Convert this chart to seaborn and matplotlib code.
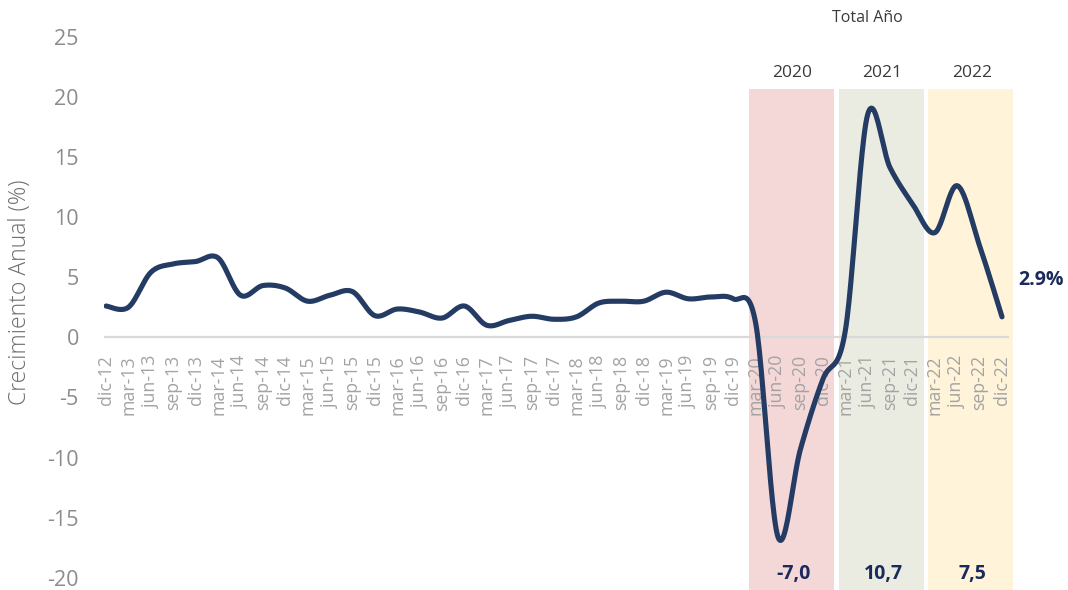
import numpy as np
import pandas as pd
import matplotlib
import matplotlib.pyplot as plt
import seaborn as sns

matplotlib.use("Agg")

# Trimestres (dic-12 a dic-22)
trimestres = [
    "dic-12", "mar-13", "jun-13", "sep-13", "dic-13", "mar-14", "jun-14", "sep-14",
    "dic-14", "mar-15", "jun-15", "sep-15", "dic-15", "mar-16", "jun-16", "sep-16",
    "dic-16", "mar-17", "jun-17", "sep-17", "dic-17", "mar-18", "jun-18", "sep-18",
    "dic-18", "mar-19", "jun-19", "sep-19", "dic-19", "mar-20", "jun-20", "sep-20",
    "dic-20", "mar-21", "jun-21", "sep-21", "dic-21", "mar-22", "jun-22", "sep-22",
    "dic-22",
]
crecimiento = [
    2.6, 2.5, 5.4, 6.1, 6.3, 6.6, 3.5, 4.3,
    4.1, 3.0, 3.5, 3.8, 1.8, 2.35, 2.1, 1.6,
    2.6, 1.0, 1.4, 1.75, 1.5, 1.7, 2.85, 3.0,
    3.0, 3.75, 3.2, 3.35, 3.2, 1.2, -16.6, -9.3,
    -3.5, 0.5, 18.5, 14.1, 11.1, 8.7, 12.6, 7.6,
    1.7,
]
anios = ["2020", "2021", "2022"]
total_anio = ["-7,0", "10,7", "7,5"]
colores_anio = ["#F4D7D7", "#EBECE1", "#FFF4D9"]
ultimo_dato = "2.9%"

AZUL = "#243B64"
AZUL_TXT = "#1B2A5C"


def suavizar(x, y, n=24):
    """Curva Catmull-Rom (como la línea suavizada de Excel)."""
    x = np.asarray(x, float)
    y = np.asarray(y, float)
    px = np.r_[x[0], x, x[-1]]
    py = np.r_[y[0], y, y[-1]]
    t = np.linspace(0, 1, n, endpoint=False)[:, None]
    xs, ys = [], []
    for i in range(1, len(px) - 2):
        for arr, out in ((px, xs), (py, ys)):
            p0, p1, p2, p3 = arr[i - 1], arr[i], arr[i + 1], arr[i + 2]
            out.append((0.5 * ((2 * p1) + (-p0 + p2) * t
                               + (2 * p0 - 5 * p1 + 4 * p2 - p3) * t ** 2
                               + (-p0 + 3 * p1 - 3 * p2 + p3) * t ** 3)).ravel())
    xs.append([x[-1]])
    ys.append([y[-1]])
    return np.concatenate(xs), np.concatenate(ys)


sns.set_theme(style="white")
plt.rcParams["font.family"] = ["Open Sans", "DejaVu Sans"]
plt.rcParams["axes.unicode_minus"] = False

df = pd.DataFrame({"pos": np.arange(len(trimestres)), "valor": crecimiento})
xs, ys = suavizar(df["pos"], df["valor"])
curva = pd.DataFrame({"pos": xs, "valor": ys})

fig = plt.figure(figsize=(10.68, 5.90), dpi=100)
ax = fig.add_axes([0.0972, 0.0, 0.8536, 0.983])
ax.set_xlim(-0.1, 40.6)
ax.set_ylim(-21.0, 27.2)

# bandas de los años
techo = 20.6
for k, (anio, tot, col) in enumerate(zip(anios, total_anio, colores_anio)):
    ini = trimestres.index("mar-" + anio[2:])
    fin = trimestres.index("dic-" + anio[2:])
    centro = (ini + fin) / 2 + 0.1
    ax.fill_between([centro - 1.9, centro + 1.9], -21.5, techo, color=col, lw=0, zorder=0)
    ax.text(centro + 0.05, 22.0, anio, ha="center", va="center", fontsize=12.5, color="#3a3a3a")
    ax.text(centro + 0.1, -19.7, tot, ha="center", va="center", fontsize=14,
            fontweight="bold", color=AZUL_TXT)

ax.text(34.0, 26.5, "Total Año", ha="center", va="center", fontsize=11.5, color="#3a3a3a")

sns.lineplot(data=curva, x="pos", y="valor", ax=ax, color=AZUL, lw=3.7,
             sort=False, estimator=None, zorder=3)
ax.text(len(trimestres) + 0.75, 4.8, ultimo_dato, ha="center", va="center",
        fontsize=14, fontweight="bold", color=AZUL_TXT)

# ejes
for s in ["top", "right", "left"]:
    ax.spines[s].set_visible(False)
ax.spines["bottom"].set_position(("data", 0))
ax.spines["bottom"].set_bounds(-0.05, 40.25)
ax.spines["bottom"].set_color("#d9d9d9")
ax.spines["bottom"].set_linewidth(1.6)
ax.spines["bottom"].set_zorder(2)

ax.set_xticks(df["pos"])
ax.set_xticklabels(trimestres, rotation=90, fontsize=12.8, color="#a3a3a3")
ax.tick_params(axis="x", direction="out", length=6, width=1.3, color="#d9d9d9", pad=7)

ax.set_yticks(range(-20, 30, 5))
ax.tick_params(axis="y", length=0, pad=18, labelsize=15.5, labelcolor="#8c8c8c")
ax.set_xlabel("")
ax.set_ylabel("Crecimiento Anual (%)", fontsize=16.5, color="#6e6e6e", fontweight="light")
ax.yaxis.set_label_coords(-0.0788, 0.514)
ax.grid(False)

fig.savefig("out.png", dpi=100)
